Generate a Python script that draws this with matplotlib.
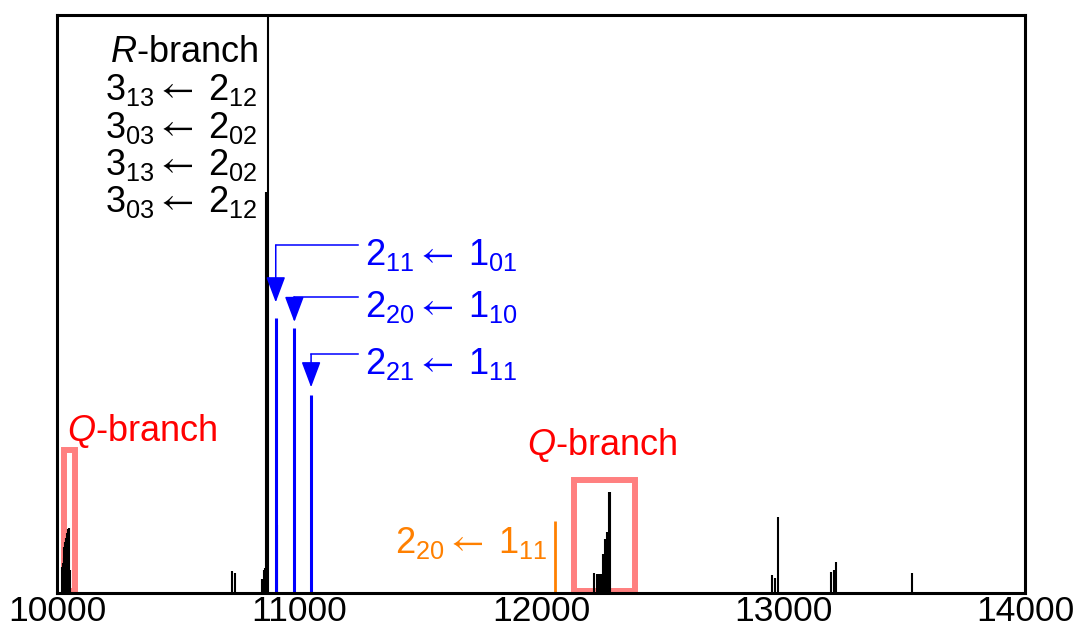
import matplotlib
matplotlib.use('Agg')
import matplotlib.pyplot as plt
from matplotlib.patches import Rectangle

plt.rcParams['font.family'] = ['Liberation Sans', 'DejaVu Sans']
plt.rcParams['mathtext.fontset'] = 'custom'
plt.rcParams['mathtext.rm'] = 'Liberation Sans'
plt.rcParams['mathtext.it'] = 'Liberation Sans:italic'
plt.rcParams['mathtext.bf'] = 'Liberation Sans:bold'
plt.rcParams['mathtext.sf'] = 'STIXGeneral'

# black stick spectrum (wavenumber, relative intensity)
black_x = [10019, 10023, 10027, 10031, 10035, 10039, 10043, 10047, 10051, 10055,
           10723, 10735, 10847, 10856, 10860, 10864, 10872, 10910,
           12219, 12231, 12240, 12248, 12256, 12264, 12273, 12283, 12287,
           12955, 12967, 12979, 13200, 13211, 13219, 13533]
black_h = [0.045, 0.052, 0.060, 0.080, 0.088, 0.095, 0.103, 0.110, 0.112, 0.040,
           0.038, 0.035, 0.024, 0.040, 0.043, 0.694, 1.20, 0.118,
           0.035, 0.033, 0.033, 0.033, 0.067, 0.093, 0.106, 0.175, 0.175,
           0.031, 0.026, 0.131, 0.037, 0.040, 0.054, 0.035]

# assigned lines
blue_x = [10904, 10981, 11050]
blue_h = [0.476, 0.458, 0.343]
orange_x = [12058]
orange_h = [0.125]


def trans(upper, lower):
    # "J_KaKc <- J_KaKc" label
    return (r'$\mathregular{%s_{%s}}\mathsf{\leftarrow}\;\mathregular{%s_{%s}}$'
            % (upper[0], upper[1:], lower[0], lower[1:]))


blue_labels = [trans('211', '101'), trans('220', '110'), trans('221', '111')]
orange_label = trans('220', '111')
r_labels = [r'$\mathit{R}$-branch', trans('313', '212'), trans('303', '202'),
            trans('313', '202'), trans('303', '212')]

# Q-branch boxes (x0, x1, top)
q_boxes = [(10031, 10076, 0.248), (12135, 12388, 0.1955)]

xticks = [10000, 11000, 12000, 13000, 14000]

fig = plt.figure(figsize=(10.75, 6.3), dpi=100)
ax = fig.add_axes([0.053, 0.0587, 0.9005, 0.9173])

ax.vlines(black_x, 0, black_h, color='black', lw=1.5)
ax.vlines(blue_x, 0, blue_h, color='#0000ff', lw=2.2)
ax.vlines(orange_x, 0, orange_h, color='#ff8000', lw=2.0)

for x0, x1, top in q_boxes:
    ax.add_patch(Rectangle((x0, 0.003), x1 - x0, top - 0.003, fill=False,
                           edgecolor='#ff8080', lw=4.3, zorder=1))

# R-branch labels
r_y = [0.919, 0.853, 0.787, 0.723, 0.659]
for lab, y in zip(r_labels, r_y):
    ax.text(10831, y, lab, ha='right', va='baseline', fontsize=26, color='black')

# blue arrows and labels
arrow_y = [0.602, 0.512, 0.413]
tip_y = [0.503, 0.469, 0.356]
text_y = [0.567, 0.4775, 0.379]
for x, ya, yt, yl, lab in zip(blue_x, arrow_y, tip_y, text_y, blue_labels):
    ax.plot([11244, x], [ya, ya], color='#0000ff', lw=1.1)
    ax.annotate('', xy=(x, yt), xytext=(x, ya),
                arrowprops=dict(arrowstyle='-|>,head_length=0.8,head_width=0.3',
                                color='#0000ff', lw=1.1, shrinkA=0, shrinkB=0,
                                mutation_scale=20))
    ax.text(11273, yl, lab, ha='left', va='baseline', fontsize=26, color='#0000ff')

ax.text(12029, 0.069, orange_label, ha='right', va='baseline', fontsize=26, color='#ff8000')

ax.text(10041, 0.263, r'$\mathit{Q}$-branch', ha='left', va='baseline', fontsize=26, color='#ff0000')
ax.text(11942, 0.239, r'$\mathit{Q}$-branch', ha='left', va='baseline', fontsize=26, color='#ff0000')

ax.set_xlim(10000, 14000)
ax.set_ylim(0, 1)
ax.set_xticks(xticks)
ax.set_xticklabels([str(t) for t in xticks])
ax.set_yticks([])
ax.tick_params(axis='x', length=0, pad=1.5, labelsize=25.5)
for s in ax.spines.values():
    s.set_linewidth(2.2)
    s.set_zorder(5)

fig.savefig('out.png', dpi=100)
